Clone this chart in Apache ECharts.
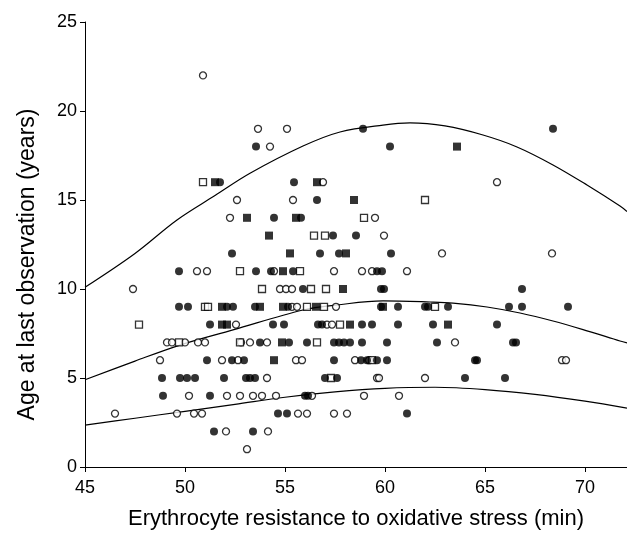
<!DOCTYPE html>
<html>
<head>
<meta charset="utf-8">
<script src="https://cdn.jsdelivr.net/npm/echarts@6/dist/echarts.min.js"></script>
<style>
html,body{margin:0;padding:0;background:#fff;}
#chart{width:627px;height:533px;}
</style>
</head>
<body>
<div id="chart"></div>
<script>
// ---- Data (x = resistance in min, y = age in years) ----
const filledCircles = [
  [58.9,19],[68.4,19],
  [53.55,18],[60.25,18],
  [51.75,16],[55.45,16],
  [56.6,15],
  [54.45,14],[55.8,14],
  [57.4,13],[58.55,13],
  [52.35,12],[56.75,12],[57.7,12],[60.3,12],
  [49.7,11],[53.55,11],[54.3,11],[55.4,11],[59.6,11],[59.85,11],
  [55.9,10],[59.8,10],[59.95,10],[66.85,10],
  [49.7,9],[50.15,9],[52.1,9],[52.4,9],[53.5,9],[55.15,9],[59.8,9],[60.65,9],[62.0,9],[62.15,9],[63.15,9],[66.2,9],[66.85,9],[69.15,9],
  [51.25,8],[54.4,8],[54.95,8],[56.65,8],[56.85,8],[58.85,8],[59.35,8],[60.65,8],[62.4,8],[65.6,8],
  [53.75,7],[55.2,7],[56.1,7],[57.45,7],[57.7,7],[57.95,7],[58.25,7],[58.85,7],[60.1,7],[62.6,7],[66.4,7],[66.55,7],
  [51.1,6],[52.35,6],[52.95,6],[57.45,6],[58.8,6],[59.1,6],[59.6,6],[60.1,6],[64.5,6],[64.6,6],
  [48.85,5],[49.75,5],[50.1,5],[50.5,5],[51.95,5],[53.05,5],[53.25,5],[53.5,5],[57.0,5],[57.6,5],[64.0,5],[66.0,5],
  [48.9,4],[51.25,4],[56.0,4],[56.15,4],
  [54.65,3],[55.1,3],[61.1,3],
  [51.45,2],[53.4,2]
];
const openCircles = [
  [50.9,22],
  [53.65,19],[55.1,19],
  [54.25,18],
  [56.9,16],[65.6,16],
  [52.6,15],[55.4,15],
  [52.25,14],[59.5,14],
  [59.95,13],
  [62.85,12],[68.35,12],
  [50.6,11],[51.1,11],[54.45,11],[57.45,11],[58.85,11],[59.35,11],[61.1,11],
  [47.4,10],[54.75,10],[55.05,10],[55.35,10],
  [55.35,9],[55.6,9],[57.55,9],
  [52.55,8],[57.1,8],[57.35,8],
  [49.1,7],[49.35,7],[50.0,7],[50.65,7],[51.0,7],[52.8,7],[53.25,7],[54.1,7],[63.5,7],
  [48.75,6],[51.85,6],[52.65,6],[55.55,6],[55.85,6],[58.5,6],[59.2,6],[68.85,6],[69.05,6],
  [54.1,5],[59.6,5],[59.7,5],[62.0,5],
  [50.2,4],[52.1,4],[52.75,4],[53.4,4],[53.85,4],[54.55,4],[56.35,4],[58.95,4],[60.7,4],
  [46.5,3],[49.6,3],[50.45,3],[50.85,3],[55.65,3],[56.1,3],[57.45,3],[58.1,3],
  [52.05,2],[54.15,2],
  [53.1,1]
];
const filledSquares = [
  [63.6,18],
  [51.5,16],[56.6,16],
  [58.45,15],
  [53.1,14],[55.55,14],
  [54.2,13],
  [55.25,12],[58.05,12],
  [54.9,11],
  [57.9,10],
  [51.85,9],[53.75,9],[54.9,9],[56.55,9],[59.9,9],
  [51.85,8],[52.1,8],[58.25,8],[63.15,8],
  [54.85,7],
  [54.45,6]
];
const openSquares = [
  [50.9,16],
  [62.0,15],
  [58.95,14],
  [56.45,13],[57.0,13],
  [52.75,11],[55.75,11],
  [53.85,10],[56.3,10],[57.05,10],
  [51.0,9],[51.15,9],[56.1,9],[56.95,9],[62.5,9],
  [47.7,8],[57.75,8],
  [49.7,7],[52.75,7],[56.6,7],
  [59.35,6],
  [57.3,5]
];
const upperCurve = [[45,10.1],[47.5,12.0],[49.6,13.88],[51.5,15.25],[53.25,16.5],[55.9,18.03],[57.75,18.82],[59.9,19.21],[61.25,19.33],[63,19.16],[64.9,18.65],[66.6,17.98],[68.4,16.97],[70.1,15.84],[71.75,14.66],[72.1,14.35]];
const middleCurve = [[45,4.9],[47.5,5.95],[49.75,6.85],[52.4,7.7],[55.9,8.82],[57.6,9.1],[59.9,9.33],[62.25,9.27],[63.4,9.21],[65.1,8.99],[66.75,8.65],[68.4,8.2],[70.1,7.65],[71.75,7.08],[72.1,6.97]];
const lowerCurve = [[45,2.35],[47.5,2.74],[50,3.13],[52.5,3.52],[55,3.92],[57.5,4.22],[60,4.42],[62.5,4.48],[65,4.35],[67.5,4.08],[70,3.7],[72.1,3.31]];
const xTicks = [45,50,55,60,65,70];
const yTicks = [0,5,10,15,20,25];

// ---- Chart ----
const chart = echarts.init(document.getElementById('chart'), null, {renderer:'canvas'});
const font = 'Liberation Sans, Arial, sans-serif';
const curveStyle = {color:'#000', width:1.2};
function curve(data){
  return {type:'line', data:data, smooth:0.35, symbol:'none', silent:true, lineStyle:curveStyle, z:1};
}
chart.setOption({
  animation:false,
  backgroundColor:'#fff',
  grid:{left:85, right:0, top:22, bottom:66, containLabel:false, outerBoundsMode:'none'},
  xAxis:{
    type:'value', min:45, max:72.1, interval:5,
    name:'Erythrocyte resistance to oxidative stress (min)',
    nameLocation:'middle', nameGap:41,
    nameTextStyle:{fontFamily:font, fontSize:22, color:'#000'},
    axisLine:{lineStyle:{color:'#000', width:1}},
    axisTick:{show:true, length:5, lineStyle:{color:'#000'}, customValues:xTicks},
    axisLabel:{fontFamily:font, fontSize:18, color:'#000', margin:12, customValues:xTicks},
    splitLine:{show:false}
  },
  yAxis:{
    type:'value', min:0, max:25, interval:5,
    name:'Age at last observation (years)',
    nameLocation:'middle', nameGap:46,
    nameTextStyle:{fontFamily:font, fontSize:23, color:'#000', padding:[0,40,0,0]},
    axisLine:{show:true, lineStyle:{color:'#000', width:1}},
    axisTick:{show:true, length:5, lineStyle:{color:'#000'}, customValues:yTicks},
    axisLabel:{fontFamily:font, fontSize:18, color:'#000', margin:8, customValues:yTicks},
    splitLine:{show:false}
  },
  series:[
    curve(upperCurve), curve(middleCurve), curve(lowerCurve),
    {type:'scatter', data:openCircles, symbol:'circle', symbolSize:7, z:3,
      itemStyle:{color:'#fff', borderColor:'#000', borderWidth:1.3}},
    {type:'scatter', data:openSquares, symbol:'rect', symbolSize:7, z:3,
      itemStyle:{color:'#fff', borderColor:'#000', borderWidth:1.3}},
    {type:'scatter', data:filledCircles, symbol:'circle', symbolSize:8, z:4,
      itemStyle:{color:'#000'}},
    {type:'scatter', data:filledSquares, symbol:'rect', symbolSize:8, z:4,
      itemStyle:{color:'#000'}}
  ]
});
</script>
</body>
</html>
